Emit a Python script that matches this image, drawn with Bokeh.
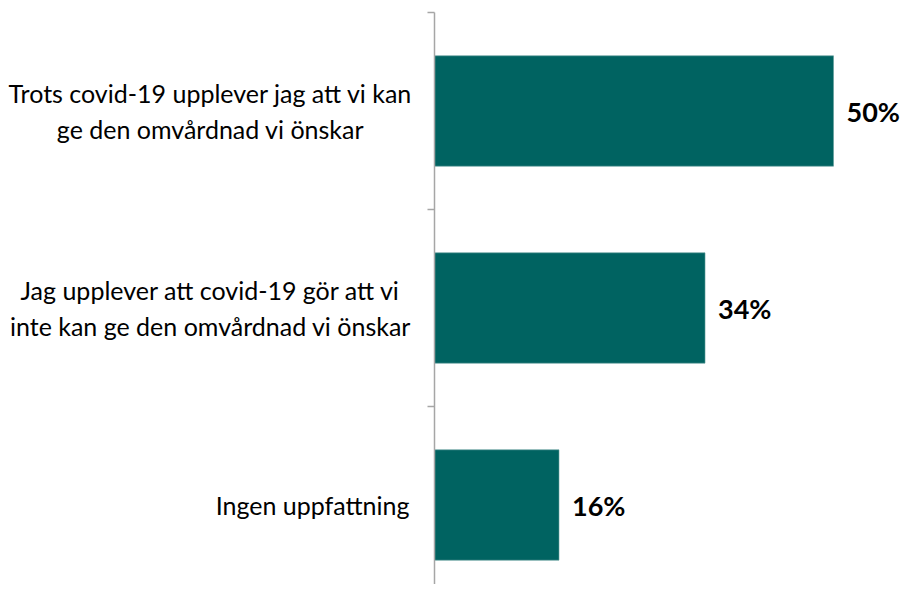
from bokeh.plotting import figure
from bokeh.core.properties import value
from bokeh.embed import file_html
from bokeh.resources import INLINE

# ---- data ----
categories = [
    "Trots covid-19 upplever jag att vi kan\nge den omvårdnad vi önskar",
    "Jag upplever att covid-19 gör att vi\ninte kan ge den omvårdnad vi önskar",
    "Ingen uppfattning",
]
values = [50.0, 33.9, 15.6]
value_labels = ["50%", "34%", "16%"]

# ---- layout constants ----
W, H = 900, 584
PX_PER_PCT = 7.98
AXIS_PX = 434          # canvas x of the value axis (0 %)
BAND_PX = 197          # height of one category band
TOP_PX = 12            # canvas y of the top band boundary

n = len(categories)
x_start = -AXIS_PX / PX_PER_PCT
x_end = x_start + W / PX_PER_PCT
y_end = n + TOP_PX / BAND_PX
y_start = y_end - H / BAND_PX

p = figure(width=W, height=H, output_backend="svg", toolbar_location=None,
           x_range=(x_start, x_end), y_range=(y_start, y_end),
           x_axis_location=None, y_axis_location=None,
           min_border=0, outline_line_color=None, background_fill_color="white")
p.grid.visible = False

yc = [n - i - 0.5 for i in range(n)]

# bars
p.hbar(y=yc, left=0, right=values, height=0.56,
       fill_color="#006361", line_color="#5f9c99", line_width=0.6)

# value axis line and tick marks at band boundaries
bounds = list(range(n + 1))
p.segment(x0=[0], y0=[0], x1=[0], y1=[n], line_color="#a6a6a6", line_width=1.5)
tick_len = 7 / PX_PER_PCT
p.segment(x0=[-tick_len] * len(bounds), y0=bounds, x1=[0] * len(bounds), y1=bounds,
          line_color="#a6a6a6", line_width=1.5)

# value labels
p.text(x=[v + 13 / PX_PER_PCT for v in values], y=yc, text=value_labels,
       text_font=value("Lato"), text_font_style="bold", text_font_size="27px",
       text_color="black", text_align="left", text_baseline="middle")

# category labels: multi-line blocks centred, single lines right-aligned
multi = [c for c in categories if "\n" in c]
multi_y = [yc[i] for i, c in enumerate(categories) if "\n" in c]
single = [c for c in categories if "\n" not in c]
single_y = [yc[i] for i, c in enumerate(categories) if "\n" not in c]
p.text(x=[(210 - AXIS_PX) / PX_PER_PCT] * len(multi), y=multi_y, text=multi,
       text_font=value("Lato"), text_font_size="25px", text_color="black",
       text_align="center", text_baseline="middle", text_line_height=1.2)
p.text(x=[(409 - AXIS_PX) / PX_PER_PCT] * len(single), y=single_y, text=single,
       text_font=value("Lato"), text_font_size="25px", text_color="black",
       text_align="right", text_baseline="middle")

open("out.html", "w").write(file_html(p, INLINE))
